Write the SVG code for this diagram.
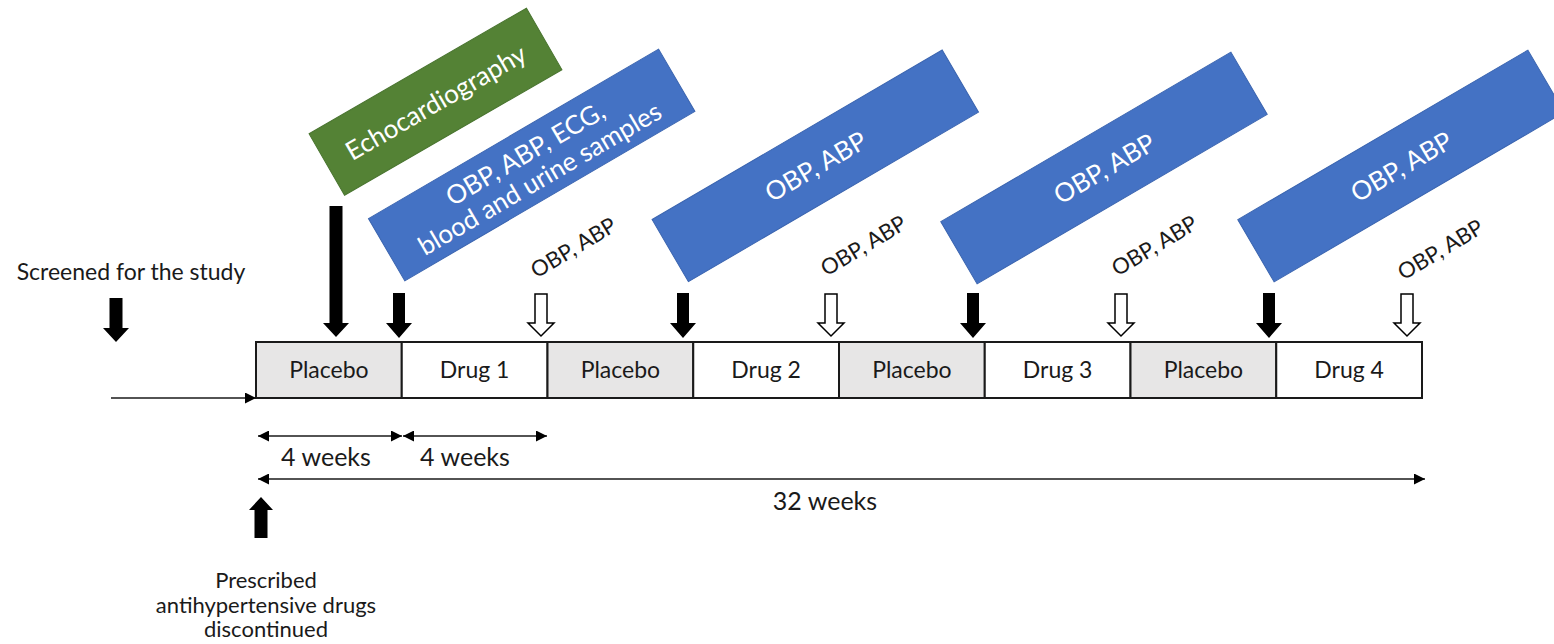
<svg xmlns="http://www.w3.org/2000/svg" xmlns:xlink="http://www.w3.org/1999/xlink" width="1554" height="644" viewBox="0 0 1554 644">
<style>
.t{font-family:Lato,"Open Sans","DejaVu Sans",sans-serif;fill:#1a1a1a}
.box{stroke:#1a1a1a;stroke-width:2}
.pl{fill:#e7e6e6}
.dr{fill:#ffffff}
.lbl{font-size:23px;text-anchor:middle}
.mid{text-anchor:middle}
.blue{fill:#4472c4;stroke:#3b65b0;stroke-width:1}
.green{fill:#548235;stroke:#4a7530;stroke-width:1}
.wt{font-family:Lato,"Open Sans","DejaVu Sans",sans-serif;fill:#ffffff;font-size:26px;text-anchor:middle;dominant-baseline:central}
.fa{fill:#000000}
.oa{fill:#ffffff;stroke:#000000;stroke-width:1.5}
.ln{stroke:#1a1a1a;stroke-width:1.3;fill:none}
.sm{font-size:22px;text-anchor:middle;dominant-baseline:central}
</style>
<defs>
<path id="fa" d="M-6,-45 H6 V-15 H13 L0,0 L-13,-15 H-6 Z"/>
<path id="oa" d="M-6,-42 H6 V-13 H13 L0,0 L-13,-13 H-6 Z"/>
<marker id="ah" viewBox="0 0 10 10" refX="10" refY="5" markerWidth="12" markerHeight="11" markerUnits="userSpaceOnUse" orient="auto-start-reverse">
<path d="M0,0 L10,5 L0,10 Z" fill="#000"/>
</marker>
</defs>

<g id="timeline">
<g id="box-placebo1"><rect class="box pl" x="256" y="342" width="145.75" height="56"/><text class="t lbl" x="328.9" y="378">Placebo</text></g>
<g id="box-drug1"><rect class="box dr" x="401.75" y="342" width="145.75" height="56"/><text class="t lbl" x="474.6" y="378">Drug 1</text></g>
<g id="box-placebo2"><rect class="box pl" x="547.5" y="342" width="145.75" height="56"/><text class="t lbl" x="620.4" y="378">Placebo</text></g>
<g id="box-drug2"><rect class="box dr" x="693.25" y="342" width="145.75" height="56"/><text class="t lbl" x="766.1" y="378">Drug 2</text></g>
<g id="box-placebo3"><rect class="box pl" x="839" y="342" width="145.75" height="56"/><text class="t lbl" x="911.9" y="378">Placebo</text></g>
<g id="box-drug3"><rect class="box dr" x="984.75" y="342" width="145.75" height="56"/><text class="t lbl" x="1057.6" y="378">Drug 3</text></g>
<g id="box-placebo4"><rect class="box pl" x="1130.5" y="342" width="145.75" height="56"/><text class="t lbl" x="1203.4" y="378">Placebo</text></g>
<g id="box-drug4"><rect class="box dr" x="1276.25" y="342" width="145.75" height="56"/><text class="t lbl" x="1349.1" y="378">Drug 4</text></g>
</g>

<g id="callout-echo" transform="translate(435.5,101.7) rotate(-30)">
<rect class="green" x="-125.5" y="-35.5" width="251" height="71"/>
<text class="wt" x="0" y="0">Echocardiography</text>
</g>
<g id="callout-1" transform="translate(531.7,165) rotate(-30.3)">
<rect class="blue" x="-168" y="-36" width="336" height="72"/>
<text class="wt" x="0" y="-14">OBP, ABP, ECG,</text>
<text class="wt" x="0" y="15">blood and urine samples</text>
</g>
<g id="callout-2" transform="translate(815.3,165.8) rotate(-30.3)">
<rect class="blue" x="-168" y="-36" width="336" height="72"/>
<text class="wt" x="0" y="0">OBP, ABP</text>
</g>
<g id="callout-3" transform="translate(1104,168) rotate(-30.3)">
<rect class="blue" x="-168" y="-36" width="336" height="72"/>
<text class="wt" x="0" y="0">OBP, ABP</text>
</g>
<g id="callout-4" transform="translate(1401,166) rotate(-30.3)">
<rect class="blue" x="-168" y="-36" width="336" height="72"/>
<text class="wt" x="0" y="0">OBP, ABP</text>
</g>

<g id="labels">
<text class="t sm" transform="translate(573,247) rotate(-31)">OBP, ABP</text>
<text class="t sm" transform="translate(863,245) rotate(-31)">OBP, ABP</text>
<text class="t sm" transform="translate(1154,245) rotate(-31)">OBP, ABP</text>
<text class="t sm" transform="translate(1440,249) rotate(-31)">OBP, ABP</text>
<text class="t mid" x="131" y="280" font-size="23">Screened for the study</text>
<text class="t mid" x="326" y="466" font-size="25">4 weeks</text>
<text class="t mid" x="465" y="466" font-size="25">4 weeks</text>
<text class="t mid" x="825" y="510" font-size="25">32 weeks</text>
<text class="t mid" x="266" y="588" font-size="22">Prescribed</text>
<text class="t mid" x="266" y="613" font-size="22">antihypertensive drugs</text>
<text class="t mid" x="266" y="637" font-size="22">discontinued</text>
</g>

<g id="connectors">
<line class="ln" x1="111" y1="398" x2="256" y2="398" marker-end="url(#ah)"/>
<line class="ln" x1="258" y1="436" x2="402" y2="436" marker-start="url(#ah)" marker-end="url(#ah)"/>
<line class="ln" x1="403" y1="436" x2="547" y2="436" marker-start="url(#ah)" marker-end="url(#ah)"/>
<line class="ln" x1="258" y1="479" x2="1425" y2="479" marker-start="url(#ah)" marker-end="url(#ah)"/>
<path class="fa" d="M109.5,298 H122.5 V328 H129 L116,342 L103,328 H109.5 Z"/>
<path class="fa" d="M329.5,206 H342.5 V323 H349 L336,337 L323,323 H329.5 Z"/>
<path class="fa" d="M254.5,538 H267.5 V510 H273 L261,497 L249,510 H254.5 Z"/>
<use href="#fa" class="fa" x="399" y="338"/>
<use href="#fa" class="fa" x="683" y="338"/>
<use href="#fa" class="fa" x="973" y="338"/>
<use href="#fa" class="fa" x="1269" y="338"/>
<use href="#oa" class="oa" x="541" y="336"/>
<use href="#oa" class="oa" x="831" y="336"/>
<use href="#oa" class="oa" x="1121" y="336"/>
<use href="#oa" class="oa" x="1407" y="336"/>
</g>
</svg>
